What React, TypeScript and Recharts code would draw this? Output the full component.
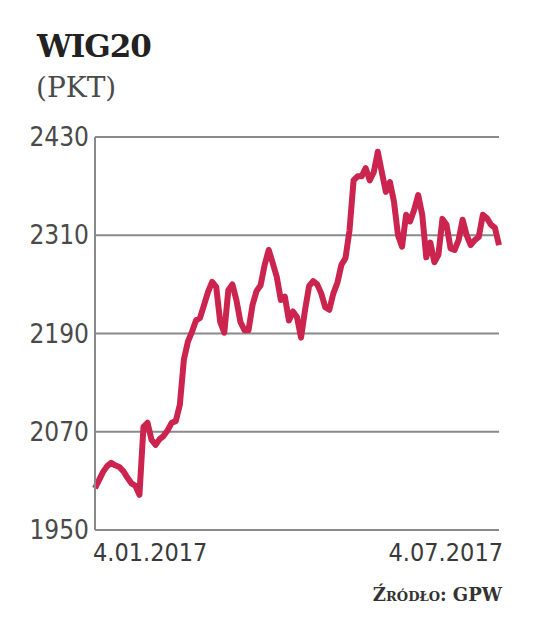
import { LineChart, Line, XAxis, YAxis, CartesianGrid } from "recharts";

// WIG20 close, Jan 4 - Jul 4 2017 (evenly spaced samples)
const values = [
  2001, 2011, 2021, 2028, 2032, 2029, 2027, 2022, 2014, 2007,
  2004, 1993, 2076, 2081, 2060, 2054, 2061, 2065, 2072, 2081,
  2083, 2103, 2158, 2180, 2192, 2206, 2209, 2225, 2241, 2253,
  2247, 2204, 2191, 2243, 2250, 2231, 2204, 2194, 2194, 2225,
  2242, 2249, 2274, 2292, 2276, 2259, 2231, 2235, 2206, 2217,
  2210, 2185, 2219, 2248, 2254, 2250, 2239, 2222, 2219, 2239,
  2252, 2274, 2282, 2316, 2377, 2382, 2382, 2392, 2377, 2387,
  2412, 2387, 2363, 2375, 2351, 2310, 2296, 2335, 2327, 2341,
  2359, 2335, 2283, 2301, 2277, 2286, 2330, 2323, 2294, 2292,
  2304, 2329, 2310, 2298, 2304, 2308, 2335, 2331, 2323, 2319,
  2298,
];

const yTicks = [1950, 2070, 2190, 2310, 2430];
const xTickLabels = ["4.01.2017", "4.07.2017"];

const data = values.map((v, i) => ({ i, v }));
const lastIndex = values.length - 1;

const NUM_FONT = "'Liberation Sans Narrow', 'DejaVu Sans Condensed', 'Roboto', sans-serif";
const SLAB_FONT = "'DejaVu Serif', serif";

function XTick(props: any) {
  const { x, y, payload, index } = props;
  const first = index === 0;
  return (
    <text
      x={first ? x - 2 : x + 4}
      y={y}
      dy={23}
      textAnchor={first ? "start" : "end"}
      fontFamily={NUM_FONT}
      fontSize={25}
      fill="#3a3a3a"
    >
      {payload.value === 0 ? xTickLabels[0] : xTickLabels[1]}
    </text>
  );
}

export default function App() {
  return (
    <div style={{ position: "absolute", left: 0, top: 0, width: 536, height: 643, background: "#fff" }}>
      <div
        style={{
          position: "absolute", left: 37, top: 28,
          fontFamily: SLAB_FONT, fontWeight: "bold", fontSize: 31, color: "#222", letterSpacing: -1,
        }}
      >
        WIG20
      </div>
      <div
        style={{
          position: "absolute", left: 36, top: 71,
          fontFamily: SLAB_FONT, fontSize: 28, color: "#4a4a4a",
        }}
      >
        (PKT)
      </div>
      <LineChart
        width={536}
        height={643}
        data={data}
        margin={{ top: 137, right: 37, bottom: 73, left: 0 }}
      >
        <CartesianGrid vertical={false} stroke="#8a8a8a" strokeWidth={2} />
        <XAxis
          dataKey="i"
          type="number"
          domain={[0, lastIndex]}
          ticks={[0, lastIndex]}
          height={40}
          axisLine={{ stroke: "#8a8a8a", strokeWidth: 2 }}
          tickLine={false}
          tick={<XTick />}
          interval={0}
        />
        <YAxis
          domain={[1950, 2430]}
          ticks={yTicks}
          width={95}
          axisLine={{ stroke: "#8a8a8a", strokeWidth: 2 }}
          tickLine={false}
          tickSize={0}
          tickMargin={6}
          tick={{ fontFamily: NUM_FONT, fontSize: 26, fill: "#4a4a4a" }}
        />
        <Line
          type="linear"
          dataKey="v"
          stroke="#cb244e"
          strokeWidth={6}
          strokeLinejoin="round"
          dot={false}
          isAnimationActive={false}
        />
      </LineChart>
      <div
        style={{
          position: "absolute", right: 34, top: 584,
          fontFamily: SLAB_FONT, fontWeight: "bold", fontSize: 18, color: "#333", fontVariant: "small-caps",
        }}
      >
        Źródło: GPW
      </div>
    </div>
  );
}
